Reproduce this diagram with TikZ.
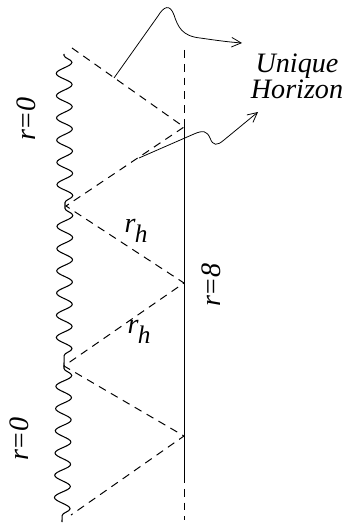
\documentclass[tikz,border=0pt]{standalone}
\usepackage{fontspec}
\setmainfont{Liberation Serif}
\usepackage{tikz}
\usetikzlibrary{arrows.meta,decorations.pathmorphing}

\begin{document}
\begin{tikzpicture}[x=0.025cm,y=-0.025cm,
  horizon/.style={dashed,dash pattern=on 5.6pt off 4.2pt,line width=0.7pt},
  singular/.style={line width=0.75pt,decorate,decoration={snake,amplitude=5.6pt,segment length=15.8pt,pre length=1pt,post length=1pt}},
  boundary/.style={line width=0.65pt},
  pointer/.style={-{Straight Barb[length=2.4mm,width=2.4mm]},line width=0.55pt},
  lbl/.style={font=\fontsize{20}{22}\selectfont\itshape,inner sep=0pt}
]
\useasboundingbox (0,0) rectangle (344,525);
% corners of the diamonds
\coordinate (l1) at (72,48);
\coordinate (l2) at (66,206);
\coordinate (l3) at (64,366);
\coordinate (l4) at (71,515);
\coordinate (r1) at (184,127);
\coordinate (r2) at (184,283);
\coordinate (r3) at (184,436);
% singularity
\coordinate (s1) at (64,54);
\coordinate (s2) at (65,207);
\coordinate (s3) at (64,367);
\coordinate (s4) at (62,522);
\draw[singular] (s1)--(s2);
\draw[singular] (s2)--(s3);
\draw[singular] (s3)--(s4);
% r=infinity line
\coordinate (top) at (184,50);
\coordinate (bot) at (184,520);
\coordinate (solidtop) at (184,126);
\coordinate (solidbot) at (184,475);
\draw[horizon] (top)--(solidtop);
\draw[boundary] (solidtop)--(solidbot);
\draw[horizon] (solidbot)--(bot);
% horizons
\draw[horizon] (l1)--(r1)--(l2)--(r2)--(l3)--(r3)--(l4);
% labels
\node[lbl,rotate=90] (rzero1) at (26,119) {r=0};
\node[lbl,rotate=90] (rzero2) at (19,439) {r=0};
\node[lbl,rotate=90] (rinf) at (211,285) {r=8};
\node[lbl] (rh1) at (136,231) {r\hspace{-0.5pt}\raisebox{-0.75ex}{\fontsize{18}{18}\selectfont h}};
\node[lbl] (rh2) at (139,332) {r\hspace{-0.5pt}\raisebox{-0.75ex}{\fontsize{18}{18}\selectfont h}};
\node[lbl,align=center,font=\fontsize{20}{16}\selectfont\itshape] (uh) at (297,76) {Unique\\Horizon};
% pointers to the horizon
\coordinate (p1) at (114,78);
\coordinate (q1) at (242,43);
\coordinate (p2) at (139,158);
\coordinate (q2) at (258,112);
\draw[pointer] (p1)--(158,16) .. controls (164,6) and (170,4) .. (174,15) .. controls (178,27) and (182,36) .. (200,38) .. controls (214,40) and (228,42) .. (q1);
\draw[pointer] (p2)--(194,134) .. controls (203,130) and (207,131) .. (210,138) .. controls (213,146) and (217,146) .. (224,140)--(q2);
\end{tikzpicture}
\end{document}
